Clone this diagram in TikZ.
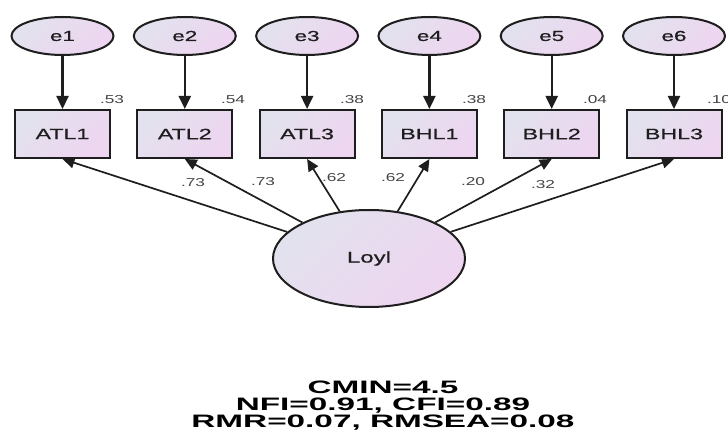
\documentclass[tikz,border=0pt]{standalone}
\usepackage{fontspec}
\setmainfont{Liberation Sans}
\newfontfamily\nodefont[FakeStretch=1.55,FakeBold=0.6]{Liberation Sans}
\newfontfamily\coeffont[FakeStretch=1.5]{Liberation Sans}
\newfontfamily\statfont[FakeStretch=1.85]{Liberation Sans}
\usetikzlibrary{shapes.geometric,arrows.meta}
\definecolor{fillA}{HTML}{E2E2EE}
\definecolor{fillB}{HTML}{EED5F0}
\definecolor{edgecol}{HTML}{1E1E1E}
\definecolor{labcol}{HTML}{454545}
\begin{document}
\begin{tikzpicture}[x=1pt,y=-1pt,
  errnode/.style={ellipse, draw=edgecol, line width=2pt, minimum width=102pt, minimum height=38pt, inner sep=0pt,
    top color=fillA, bottom color=fillB, shading angle=45, text=edgecol, font=\nodefont\fontsize{14.5}{16}\selectfont},
  obsnode/.style={rectangle, draw=edgecol, line width=2pt, minimum width=95pt, minimum height=48pt, inner sep=0pt,
    top color=fillA, bottom color=fillB, shading angle=45, text=edgecol, font=\nodefont\fontsize{15}{17}\selectfont},
  latnode/.style={ellipse, draw=edgecol, line width=2pt, minimum width=192pt, minimum height=97pt, inner sep=0pt,
    top color=fillA, bottom color=fillB, shading angle=45, text=edgecol, font=\nodefont\fontsize{15.5}{17}\selectfont},
  coefnode/.style={inner sep=0pt, text=labcol, font=\coeffont\fontsize{11.5}{12}\selectfont},
  statnode/.style={inner sep=0pt, anchor=base, text=black, font=\statfont\bfseries\fontsize{18}{18}\selectfont},
  errarrow/.style={draw=edgecol, line width=2.2pt, -{Triangle[length=13pt,width=12pt]}},
  loadarrow/.style={draw=edgecol, line width=1.7pt, -{Triangle[length=12pt,width=11pt]}}
]
\useasboundingbox[fill=white] (0,0) rectangle (728,435);

% error terms
\node[errnode] (e1) at (62.5,36) {e1};
\node[errnode] (e2) at (184.8,36) {e2};
\node[errnode] (e3) at (307.1,36) {e3};
\node[errnode] (e4) at (429.4,36) {e4};
\node[errnode] (e5) at (551.7,36) {e5};
\node[errnode] (e6) at (674,36) {e6};

% observed variables
\node[obsnode] (a1) at (62.5,134) {ATL1};
\node[obsnode] (a2) at (184.8,134) {ATL2};
\node[obsnode] (a3) at (307.1,134) {ATL3};
\node[obsnode] (b1) at (429.4,134) {BHL1};
\node[obsnode] (b2) at (551.7,134) {BHL2};
\node[obsnode] (b3) at (674,134) {BHL3};

% latent
\node[latnode] (L) at (369,258.5) {Loyl};

% error arrows
\draw[errarrow] (e1) -- (a1);
\draw[errarrow] (e2) -- (a2);
\draw[errarrow] (e3) -- (a3);
\draw[errarrow] (e4) -- (b1);
\draw[errarrow] (e5) -- (b2);
\draw[errarrow] (e6) -- (b3);

% loadings
\draw[loadarrow] (L) -- (a1.south);
\draw[loadarrow] (L) -- (a2.south);
\draw[loadarrow] (L) -- (a3.south);
\draw[loadarrow] (L) -- (b1.south);
\draw[loadarrow] (L) -- (b2.south);
\draw[loadarrow] (L) -- (b3.south);

% squared multiple correlations
\node[coefnode] (r1) at (112,100) {.53};
\node[coefnode] (r2) at (233,100) {.54};
\node[coefnode] (r3) at (352,100) {.38};
\node[coefnode] (r4) at (474,100) {.38};
\node[coefnode] (r5) at (595,100) {.04};
\node[coefnode] (r6) at (719,100) {.10};

% loading labels
\node[coefnode] (l1) at (193,183) {.73};
\node[coefnode] (l2) at (263,182) {.73};
\node[coefnode] (l3) at (334,178) {.62};
\node[coefnode] (l4) at (393,178) {.62};
\node[coefnode] (l5) at (473,182) {.20};
\node[coefnode] (l6) at (543,185) {.32};

% fit statistics
\node[statnode] (s1) at (383,393) {CMIN=4.5};
\node[statnode] (s2) at (383,410) {NFI=0.91, CFI=0.89};
\node[statnode] (s3) at (383,427) {RMR=0.07, RMSEA=0.08};
\end{tikzpicture}
\end{document}
